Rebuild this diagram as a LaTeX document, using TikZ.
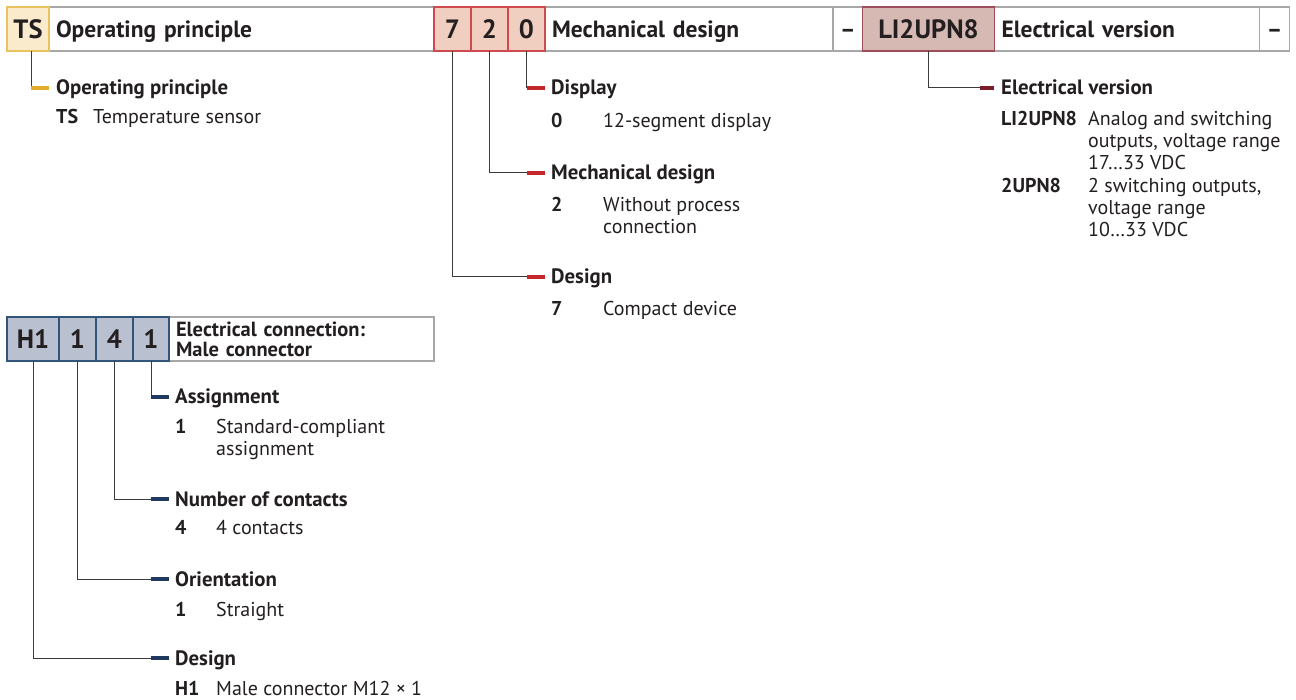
\documentclass[tikz,border=0pt]{standalone}
\usepackage{fontspec}
\setmainfont{PT Sans}
\usepackage{xcolor}
\usepackage{tikz}
\usetikzlibrary{positioning}
\pgfdeclarelayer{bg}
\pgfsetlayers{bg,main}

\definecolor{txt}{HTML}{231F20}
\definecolor{framegrey}{HTML}{A7A7A7}
\definecolor{connline}{HTML}{3B3B3B}
\definecolor{tsfill}{HTML}{FAEBCD}
\definecolor{tsline}{HTML}{EBC35E}
\definecolor{tsyel}{HTML}{E3AC2A}
\definecolor{mechfill}{HTML}{F0CFC0}
\definecolor{mechline}{HTML}{CF4A4E}
\definecolor{mechred}{HTML}{C1272D}
\definecolor{elecfill}{HTML}{D7B9B4}
\definecolor{elecline}{HTML}{9E4B5A}
\definecolor{elecred}{HTML}{7A1C2C}
\definecolor{confill}{HTML}{B9C0CF}
\definecolor{conline}{HTML}{34557A}
\definecolor{navy}{HTML}{1D3A5E}

\newcommand{\barcodefont}{\fontsize{26.5}{30}\selectfont\bfseries}
\newcommand{\barlabfont}{\fontsize{23.5}{26}\selectfont\bfseries}
\newcommand{\conlabfont}{\fontsize{20.5}{20}\selectfont\bfseries}
\newcommand{\labfont}{\fontsize{20.8}{22}\selectfont\bfseries}
\newcommand{\desccodefont}{\fontsize{20}{22}\selectfont\bfseries}
\newcommand{\descfont}{\fontsize{20}{22}\selectfont}
\newcommand{\desclines}[1]{\begin{tabular}[t]{@{}l@{}}#1\end{tabular}}

\begin{document}
\begin{tikzpicture}[x=1pt, y=-1pt, node distance=0pt, text=txt,
  cell/.style={minimum height=44pt, inner sep=0pt, outer sep=0pt, text depth=0pt},
  codecell/.style={cell, line width=1.2pt, font=\barcodefont, text height=18.5pt},
  tscell/.style={codecell, fill=tsfill, draw=tsline},
  mechcell/.style={codecell, fill=mechfill, draw=mechline},
  eleccell/.style={codecell, fill=elecfill, draw=elecline},
  concell/.style={codecell, fill=confill, draw=conline},
  labcell/.style={cell, inner xsep=7pt, align=left, font=\barlabfont, text height=16.5pt},
  conlab/.style={minimum height=44pt, inner sep=0pt, outer sep=0pt, inner xsep=7pt, align=left, font=\conlabfont},
  frame/.style={draw=framegrey, line width=1.2pt},
  conn/.style={draw=connline, line width=1pt},
  tick/.style={draw=#1, line width=4pt},
  sublab/.style={anchor=west, inner sep=0pt, font=\labfont, text height=14pt, text depth=0pt},
  desccode/.style={anchor=base west, inner sep=0pt, font=\desccodefont},
  desctext/.style={anchor=base west, inner sep=0pt, font=\descfont}]
\useasboundingbox (0,0) rectangle (1296,700);

% type code bar
\node[tscell, minimum width=42pt, anchor=north west] (ts) at (7,7) {TS};
\node[labcell, text width=371pt, right=of ts] (tsl) {Operating principle};
\node[mechcell, minimum width=37pt, right=of tsl] (c7) {7};
\node[mechcell, minimum width=37pt, right=of c7] (c2) {2};
\node[mechcell, minimum width=37pt, right=of c2] (c0) {0};
\node[labcell, text width=274pt, right=of c0] (mechl) {Mechanical design};
\node[labcell, minimum width=29pt, right=of mechl] (dsa) {–};
\node[eleccell, minimum width=132pt, right=of dsa] (lic) {LI2UPN8};
\node[labcell, text width=251pt, right=of lic] (elecl) {Electrical version};
\node[labcell, minimum width=30pt, right=of elecl] (dsb) {–};

% connector code bar
\node[concell, minimum width=52pt, anchor=north west] (h1) at (7,317) {H1};
\node[concell, minimum width=37pt, right=of h1] (k1) {1};
\node[concell, minimum width=37pt, right=of k1] (k4) {4};
\node[concell, minimum width=36pt, right=of k4] (k1b) {1};
\node[conlab, text width=251pt, right=of k1b] (conl) {Electrical connection:\\Male connector};

\begin{pgfonlayer}{bg}
\foreach \c in {tsl,mechl,dsa,elecl,dsb,conl}
  \draw[frame] (\c.north west) rectangle (\c.south east);
\end{pgfonlayer}

% operating principle
\node[sublab] (tsop) at (56,88) {Operating principle};
\node[desccode] (tsop1) at ([yshift=-29pt]tsop.base west) {TS};
\node[desctext] (tsop1t) at ([xshift=37pt]tsop1.base west) {Temperature sensor};

% mechanical design
\node[sublab] (disp) at (551,88) {Display};
\node[desccode] (disp1) at ([yshift=-33pt]disp.base west) {0};
\node[desctext] (disp1t) at ([xshift=52pt]disp1.base west) {12-segment display};
\node[sublab] (mech) at (551,173) {Mechanical design};
\node[desccode] (mech1) at ([yshift=-32pt]mech.base west) {2};
\node[desctext] (mech1t) at ([xshift=52pt]mech1.base west) {\desclines{Without process\\connection}};
\node[sublab] (desg) at (551,277) {Design};
\node[desccode] (desg1) at ([yshift=-32pt]desg.base west) {7};
\node[desctext] (desg1t) at ([xshift=52pt]desg1.base west) {Compact device};

% electrical version
\node[sublab] (elv) at (1001,88) {Electrical version};
\node[desccode] (elv1) at ([yshift=-31pt]elv.base west) {LI2UPN8};
\node[desctext] (elv1t) at ([xshift=87pt]elv1.base west) {\desclines{Analog and switching\\outputs, voltage range\\17…33 VDC}};
\node[desccode] (elv2) at ([yshift=-67pt]elv1.base west) {2UPN8};
\node[desctext] (elv2t) at ([xshift=87pt]elv2.base west) {\desclines{2 switching outputs,\\voltage range\\10…33 VDC}};

% electrical connection
\node[sublab] (asg) at (175,397) {Assignment};
\node[desccode] (asg1) at ([yshift=-29pt]asg.base west) {1};
\node[desctext] (asg1t) at ([xshift=41pt]asg1.base west) {\desclines{Standard-compliant\\assignment}};
\node[sublab] (noc) at (175,499) {Number of contacts};
\node[desccode] (noc1) at ([yshift=-28pt]noc.base west) {4};
\node[desctext] (noc1t) at ([xshift=41pt]noc1.base west) {4 contacts};
\node[sublab] (ori) at (175,579) {Orientation};
\node[desccode] (ori1) at ([yshift=-30pt]ori.base west) {1};
\node[desctext] (ori1t) at ([xshift=41pt]ori1.base west) {Straight};
\node[sublab] (hdes) at (175,658) {Design};
\node[desccode] (hdes1) at ([yshift=-30pt]hdes.base west) {H1};
\node[desctext] (hdes1t) at ([xshift=41pt]hdes1.base west) {Male connector M12 × 1};

% connectors
\draw[conn] ([xshift=3pt]ts.south) |- ([xshift=-25pt]tsop.west);
\draw[tick=tsyel] ([xshift=-25pt]tsop.west) -- ([xshift=-7pt]tsop.west);
\draw[conn] (lic.south) |- ([xshift=-21pt]elv.west);
\draw[tick=elecred, line width=3.5pt] ([xshift=-21pt]elv.west) -- ([xshift=-7pt]elv.west);
\foreach \src/\lab/\col in {c0/disp/mechred, c2/mech/mechred, c7/desg/mechred,
    k1b/asg/navy, k4/noc/navy, k1/ori/navy, h1/hdes/navy} {
  \draw[conn] (\src.south) |- ([xshift=-24pt]\lab.west);
  \draw[tick=\col] ([xshift=-24pt]\lab.west) -- ([xshift=-6pt]\lab.west);
}

\end{tikzpicture}
\end{document}
